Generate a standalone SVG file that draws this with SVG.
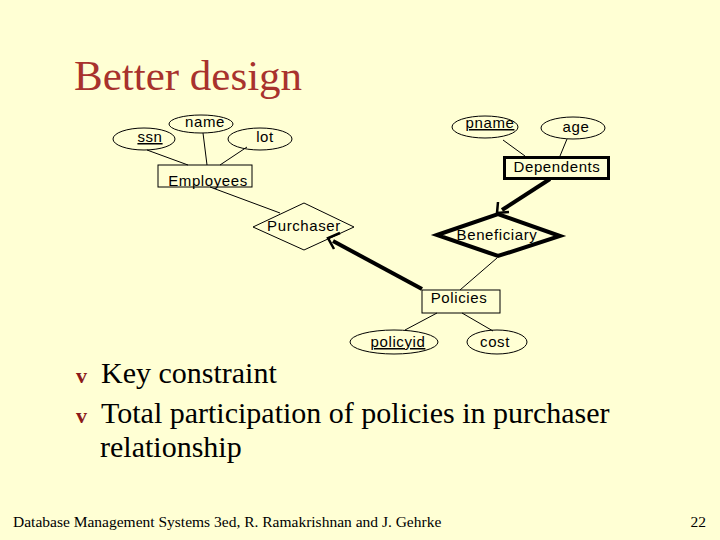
<svg xmlns="http://www.w3.org/2000/svg" width="720" height="540" viewBox="0 0 720 540">
<style>
.e{fill:none;stroke:#000;stroke-width:1}
.t{font-family:"Liberation Sans",Arial,sans-serif;font-size:15px;letter-spacing:0.6px;fill:#000;text-anchor:middle}
.s{font-family:"Liberation Serif","Times New Roman",serif;fill:#000}
.b{font-family:"Liberation Serif","Times New Roman",serif;font-size:22px;font-weight:bold;fill:#8b1a1a}
.c line{stroke:#000;stroke-width:1}
.c .k{stroke-width:4}
</style>
<rect width="720" height="540" fill="#ffffd4"/>
<text x="74" y="90" class="s" font-size="43" style="fill:#a8322d">Better design</text>
<g class="c">
<line x1="147" y1="150" x2="188" y2="165"/>
<line x1="203" y1="133" x2="207" y2="165"/>
<line x1="247" y1="147" x2="220" y2="165"/>
<line x1="210" y1="187" x2="280" y2="213"/>
<line x1="503" y1="140" x2="525" y2="156"/>
<line x1="567" y1="139" x2="560" y2="156"/>
<line x1="460" y1="290" x2="497" y2="258"/>
<line x1="437" y1="313" x2="405" y2="330"/>
<line x1="462" y1="313" x2="493" y2="331"/>
<line class="k" x1="422" y1="289" x2="333" y2="241"/>
<path d="M340,233 L328,238 L334,249" fill="none" stroke="#000" stroke-width="2.5"/>
<line class="k" x1="550" y1="179" x2="502" y2="210"/>
<path d="M498,202 L497,213 L509,212" fill="none" stroke="#000" stroke-width="2.5"/>
</g>
<g id="ssn"><ellipse class="e" cx="144" cy="139" rx="31" ry="11"/><text class="t" x="150" y="142" text-decoration="underline">ssn</text></g>
<g id="name"><ellipse class="e" cx="201" cy="124" rx="32" ry="9"/><text class="t" x="205" y="127">name</text></g>
<g id="lot"><ellipse class="e" cx="260" cy="139" rx="32" ry="11"/><text class="t" x="265" y="142">lot</text></g>
<g id="employees"><rect class="e" x="158" y="165" width="94" height="22"/><text class="t" x="208" y="186">Employees</text></g>
<g id="purchaser"><polygon class="e" points="253,227 304,203 354,227 304,250"/><text class="t" x="304" y="231">Purchaser</text></g>
<g id="pname"><ellipse class="e" cx="485" cy="127" rx="33" ry="11"/><text class="t" x="490" y="128" text-decoration="underline">pname</text></g>
<g id="age"><ellipse class="e" cx="573" cy="128" rx="32" ry="11"/><text class="t" x="576" y="132">age</text></g>
<g id="dependents"><rect x="504.5" y="157.5" width="104" height="21" fill="none" stroke="#000" stroke-width="3"/><text class="t" x="557" y="172">Dependents</text></g>
<g id="beneficiary"><polygon points="437,235 498,214 560,236 498,256" fill="none" stroke="#000" stroke-width="4"/><text class="t" x="497" y="240">Beneficiary</text></g>
<g id="policies"><rect class="e" x="422" y="290" width="78" height="23"/><text class="t" x="459" y="303">Policies</text></g>
<g id="policyid"><ellipse class="e" cx="394" cy="342" rx="44" ry="12"/><text class="t" x="398" y="347" text-decoration="underline">policyid</text></g>
<g id="cost"><ellipse class="e" cx="497" cy="342" rx="30" ry="12"/><text class="t" x="495" y="347">cost</text></g>
<text x="76" y="383" class="b">v</text>
<text x="101" y="383" class="s" font-size="30">Key constraint</text>
<text x="76" y="423" class="b">v</text>
<text x="101" y="423" class="s" font-size="30">Total participation of policies in purchaser</text>
<text x="100" y="457" class="s" font-size="30">relationship</text>
<text x="13" y="527" class="s" font-size="15.5">Database Management Systems 3ed,  R. Ramakrishnan and J. Gehrke</text>
<text x="706" y="527" class="s" font-size="15.5" text-anchor="end">22</text>
</svg>
